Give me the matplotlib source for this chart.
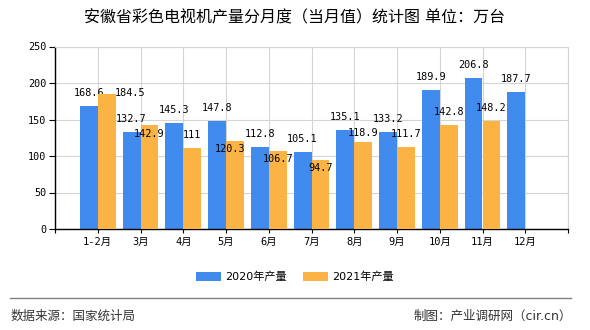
import matplotlib
matplotlib.use("Agg")
import matplotlib.pyplot as plt
import numpy as np

# data (万台)
months = ["1-2月", "3月", "4月", "5月", "6月", "7月", "8月", "9月", "10月", "11月", "12月"]
output_2020 = [168.6, 132.7, 145.3, 147.8, 112.8, 105.1, 135.1, 133.2, 189.9, 206.8, 187.7]
output_2021 = [184.5, 142.9, 111, 120.3, 106.7, 94.7, 118.9, 111.7, 142.8, 148.2]

BLUE = "#418bee"
ORANGE = "#fbb443"
GRID = "#d4d4d4"
MONO = ["DejaVu Sans Mono", "Noto Sans CJK SC"]
CJK = ["DejaVu Sans", "Noto Sans CJK SC"]

# label shifts (pixels) where the original chart moved overlapping labels
nudge_2021 = {0: (23, -12), 1: (0, -22), 3: (-5, -21), 4: (0, -21), 5: (0, -21), 6: (0, -4)}

fig = plt.figure(figsize=(5.9, 3.3), dpi=100)
ax = fig.add_axes([55 / 590, 1 - 229 / 330, 513 / 590, 182.5 / 330])

x = np.arange(len(months))
w = 0.42
x20 = x[:len(output_2020)] - w / 2
x21 = x[:len(output_2021)] + w / 2

ax.bar(x20, output_2020, width=w, color=BLUE, zorder=2, label="2020年产量")
ax.bar(x21, output_2021, width=w, color=ORANGE, zorder=3, label="2021年产量")

for xi, v in zip(x20, output_2020):
    ax.annotate(f"{v:g}", (xi, v), xytext=(0, 13), textcoords="offset pixels",
                ha="center", va="center", fontsize=7.3, family=MONO, zorder=2.5)
for i, (xi, v) in enumerate(zip(x21, output_2021)):
    dx, dy = nudge_2021.get(i, (0, 0))
    ax.annotate(f"{v:g}", (xi, v), xytext=(dx, 13 + dy), textcoords="offset pixels",
                ha="center", va="center", fontsize=7.3, family=MONO, zorder=4)

ax.set_xlim(-1, len(months))
ax.set_ylim(0, 250)
ax.set_yticks(range(0, 251, 50))
ax.set_xticks(np.arange(-1, len(months) + 1))
ax.set_xticklabels([""] + months + [""], family=MONO, fontsize=7.5)
for lbl in ax.get_yticklabels():
    lbl.set_family(MONO)
    lbl.set_fontsize(7.3)

ax.grid(True, color=GRID, linewidth=0.8, zorder=0)
ax.set_axisbelow(True)
for side in ["top", "right"]:
    ax.spines[side].set_color(GRID)
    ax.spines[side].set_linewidth(0.8)
for side in ["left", "bottom"]:
    ax.spines[side].set_color("black")
    ax.spines[side].set_linewidth(1.0)
ax.tick_params(axis="y", length=4, width=0.8, pad=2, colors="black")
ax.tick_params(axis="x", length=3, width=0.8, pad=3, colors="black")

fig.text(0.5, 1 - 18 / 330, "安徽省彩色电视机产量分月度（当月值）统计图 单位：万台",
         ha="center", va="center", fontsize=11.5, family=CJK)

fig.legend(loc="center", bbox_to_anchor=(0.5, 1 - 277 / 330), ncol=2, frameon=False,
           prop={"family": CJK, "size": 8}, handlelength=2.2, handleheight=0.9,
           handletextpad=0.4, columnspacing=1.5)

fig.add_artist(plt.Line2D([10 / 590, 571 / 590], [1 - 298 / 330] * 2, color="#808080", linewidth=1))
fig.text(11 / 590, 1 - 316 / 330, "数据来源：国家统计局", ha="left", va="center",
         fontsize=9, family=CJK, color="#333333")
fig.text(572 / 590, 1 - 316 / 330, "制图：产业调研网（cir.cn）", ha="right", va="center",
         fontsize=9, family=CJK, color="#333333")

fig.savefig("out.png", dpi=100)
